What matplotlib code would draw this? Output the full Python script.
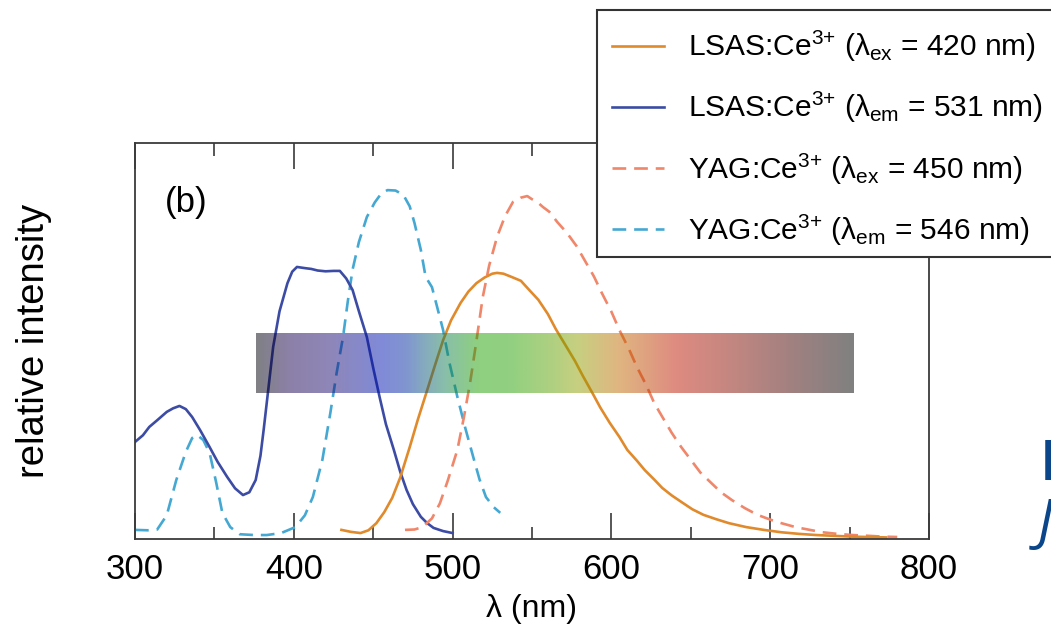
import numpy as np
import matplotlib
matplotlib.use("Agg")
import matplotlib.pyplot as plt
from matplotlib.colors import LinearSegmentedColormap, to_rgb
from matplotlib.lines import Line2D
from matplotlib.patches import Rectangle
from matplotlib.ticker import MultipleLocator

plt.rcParams['font.family'] = ['Liberation Sans', 'DejaVu Sans']
plt.rcParams['mathtext.fontset'] = 'custom'
plt.rcParams['mathtext.rm'] = 'Liberation Sans'
plt.rcParams['mathtext.it'] = 'Liberation Sans:italic'

# ---------------------------------------------------------------------------
# spectra (relative intensity, 0..1 of the plot height)
# ---------------------------------------------------------------------------
lsas_ex_wl = [430, 436, 442, 447, 452, 457, 462, 467, 473, 478, 484, 489, 494,
              499, 505, 510, 515, 520, 525, 528, 532, 537, 543, 548, 554, 560,
              565, 571, 577, 582, 588, 593, 599, 605, 610, 616, 621, 627, 632,
              638, 645, 651, 658, 666, 674, 685, 696, 707, 718, 729, 740, 751,
              762, 773]
lsas_ex_int = [0.023, 0.018, 0.015, 0.022, 0.040, 0.068, 0.104, 0.155, 0.232,
               0.300, 0.376, 0.440, 0.502, 0.552, 0.596, 0.625, 0.646, 0.660,
               0.670, 0.672, 0.670, 0.662, 0.652, 0.630, 0.604, 0.568, 0.530,
               0.490, 0.450, 0.412, 0.369, 0.332, 0.293, 0.258, 0.225, 0.198,
               0.174, 0.150, 0.129, 0.110, 0.091, 0.075, 0.061, 0.050, 0.040,
               0.030, 0.023, 0.017, 0.013, 0.010, 0.008, 0.006, 0.005, 0.004]

lsas_em_wl = [300, 305, 309, 314, 320, 324, 328, 332, 336, 341, 347, 352, 358,
              363, 368, 372, 376, 379, 381, 384, 387, 391, 396, 399, 402, 407,
              411, 415, 420, 425, 429, 433, 437, 441, 446, 450, 454, 458, 463,
              467, 471, 475, 480, 484, 488, 494, 500]
lsas_em_int = [0.245, 0.262, 0.283, 0.300, 0.321, 0.330, 0.336, 0.328, 0.308,
               0.275, 0.232, 0.195, 0.157, 0.128, 0.111, 0.118, 0.149, 0.210,
               0.275, 0.380, 0.485, 0.575, 0.646, 0.675, 0.687, 0.684, 0.682,
               0.678, 0.676, 0.677, 0.677, 0.658, 0.629, 0.575, 0.510, 0.432,
               0.359, 0.290, 0.225, 0.170, 0.124, 0.088, 0.056, 0.040, 0.028,
               0.020, 0.015]

yag_ex_wl = [470, 476, 481, 487, 492, 497, 503, 507, 511, 515, 519, 523, 528,
             533, 538, 543, 547, 550, 553, 557, 561, 566, 572, 578, 583, 589,
             594, 600, 605, 611, 616, 622, 627, 633, 638, 644, 650, 656, 663,
             669, 676, 684, 692, 700, 707, 716, 725, 733, 742, 752, 762, 771,
             780]
yag_ex_int = [0.023, 0.024, 0.030, 0.052, 0.090, 0.148, 0.225, 0.305, 0.394,
              0.500, 0.611, 0.690, 0.763, 0.815, 0.851, 0.862, 0.866, 0.858,
              0.852, 0.838, 0.826, 0.800, 0.773, 0.740, 0.705, 0.663, 0.621,
              0.574, 0.528, 0.480, 0.435, 0.388, 0.343, 0.302, 0.268, 0.232,
              0.200, 0.168, 0.141, 0.118, 0.098, 0.078, 0.061, 0.049, 0.040,
              0.030, 0.023, 0.017, 0.013, 0.010, 0.008, 0.006, 0.005]

yag_em_wl = [300, 308, 314, 320, 326, 332, 336, 339, 343, 347, 351, 355, 360,
             366, 375, 383, 392, 401, 407, 412, 418, 423, 427, 431, 434, 437,
             441, 446, 451, 455, 459, 464, 469, 473, 476, 480, 483, 487, 490,
             494, 498, 503, 508, 513, 517, 521, 526, 530]
yag_em_int = [0.023, 0.022, 0.024, 0.060, 0.149, 0.220, 0.255, 0.263, 0.250,
              0.217, 0.145, 0.066, 0.030, 0.012, 0.010, 0.010, 0.015, 0.030,
              0.060, 0.106, 0.200, 0.318, 0.420, 0.510, 0.600, 0.680, 0.750,
              0.813, 0.850, 0.872, 0.881, 0.880, 0.869, 0.840, 0.798, 0.730,
              0.662, 0.636, 0.590, 0.528, 0.445, 0.359, 0.280, 0.207, 0.150,
              0.106, 0.080, 0.066]

labels = [r'LSAS:Ce$^{\text{3+}}$ (λ$_{\text{ex}}$ = 420 nm)',
          r'LSAS:Ce$^{\text{3+}}$ (λ$_{\text{em}}$ = 531 nm)',
          r'YAG:Ce$^{\text{3+}}$ (λ$_{\text{ex}}$ = 450 nm)',
          r'YAG:Ce$^{\text{3+}}$ (λ$_{\text{em}}$ = 546 nm)']

# visible band drawn across the plot
band_wl = (376, 752)
band_y = (0.369, 0.520)

# ---------------------------------------------------------------------------
# style
# ---------------------------------------------------------------------------
C_LSAS_EX = '#e08a2c'
C_LSAS_EM = '#3c4ca4'
C_YAG_EX = '#f0866a'
C_YAG_EM = '#45a8d2'
SPINE = '#3a3a3a'
LW = 1.9
DASH = (5.2, 3.0)

# colour stops of the band as seen over white (band drawn at alpha 0.5)
band_stops = [(0.00, '#7f7f85'), (0.055, '#8c80a8'), (0.12, '#8e86b8'),
              (0.21, '#7b8ad8'), (0.25, '#7f95cf'), (0.28, '#85aabf'),
              (0.315, '#88bfa8'), (0.37, '#8ecf80'), (0.43, '#92d07a'),
              (0.48, '#a8d080'), (0.54, '#c8cf80'), (0.61, '#e0b480'),
              (0.705, '#de8a80'), (0.80, '#c28680'), (0.90, '#a08080'),
              (1.00, '#808080')]
BAND_ALPHA = 0.5
raw_stops = [(p, tuple(np.clip((np.array(to_rgb(c)) - (1 - BAND_ALPHA)) / BAND_ALPHA, 0, 1)))
             for p, c in band_stops]
band_cmap = LinearSegmentedColormap.from_list('band', raw_stops)

fig = plt.figure(figsize=(10.51, 6.26), dpi=100)
ax = fig.add_axes([135 / 1051, 87 / 626, 794 / 1051, 396 / 626])

ax.plot(yag_em_wl, yag_em_int, color=C_YAG_EM, lw=LW, dashes=DASH, zorder=2)
ax.plot(lsas_em_wl, lsas_em_int, color=C_LSAS_EM, lw=LW, zorder=2)
ax.plot(yag_ex_wl, yag_ex_int, color=C_YAG_EX, lw=LW, dashes=DASH, zorder=2)
ax.plot(lsas_ex_wl, lsas_ex_int, color=C_LSAS_EX, lw=LW, zorder=2)

grad = np.linspace(0, 1, 600).reshape(1, -1)
ax.imshow(grad, cmap=band_cmap, alpha=BAND_ALPHA, aspect='auto',
          extent=[band_wl[0], band_wl[1], band_y[0], band_y[1]],
          interpolation='bilinear', zorder=3)

ax.set_xlim(300, 800)
ax.set_ylim(0, 1)
ax.set_xticks(range(300, 801, 100))
ax.xaxis.set_minor_locator(MultipleLocator(50))
ax.set_yticks([])
ax.tick_params(which='both', direction='in', top=True, bottom=True,
               left=False, right=False, color=SPINE, width=1.2,
               labelsize=25, pad=10)
ax.tick_params(which='major', length=18.5)
ax.tick_params(which='minor', length=9)
for s in ax.spines.values():
    s.set_color(SPINE)
    s.set_linewidth(1.3)

ax.set_xlabel('λ (nm)', fontsize=23, labelpad=6)
ax.set_ylabel('relative intensity', fontsize=27.5)
ax.yaxis.set_label_coords(-0.105, 0.5)
ax.text(0.038, 0.85, '(b)', transform=ax.transAxes, fontsize=25,
        ha='left', va='center')

# legend box, running off the right edge of the figure
frame = Rectangle((597 / 1051, 1 - 257 / 626), 480 / 1051, 247 / 626,
                  transform=fig.transFigure, facecolor='white',
                  edgecolor='#333333', lw=1.5, zorder=5)
fig.add_artist(frame)

handles = [Line2D([], [], color=C_LSAS_EX, lw=LW),
           Line2D([], [], color=C_LSAS_EM, lw=LW),
           Line2D([], [], color=C_YAG_EX, lw=LW, dashes=DASH),
           Line2D([], [], color=C_YAG_EM, lw=LW, dashes=DASH)]
leg = fig.legend(handles, labels, loc='upper left',
                 bbox_to_anchor=(612 / 1051, 1 - 29 / 626), frameon=False,
                 fontsize=21.5, handlelength=1.74, handletextpad=0.8,
                 labelspacing=0.87, borderpad=0, borderaxespad=0)
leg.set_zorder(6)

# slide text cut off at the right edge
fig.text(1040 / 1051, 1 - 480 / 626, 'I', fontsize=40, color='#0b468a',
         family=['Open Sans', 'DejaVu Sans'], fontweight='semibold',
         ha='left', va='baseline')
fig.text(1038 / 1051, 1 - 540 / 626, 'J', fontsize=40, color='#0b468a',
         family=['Open Sans', 'DejaVu Sans'], style='italic',
         ha='left', va='baseline')

fig.savefig('out.png', dpi=100)
